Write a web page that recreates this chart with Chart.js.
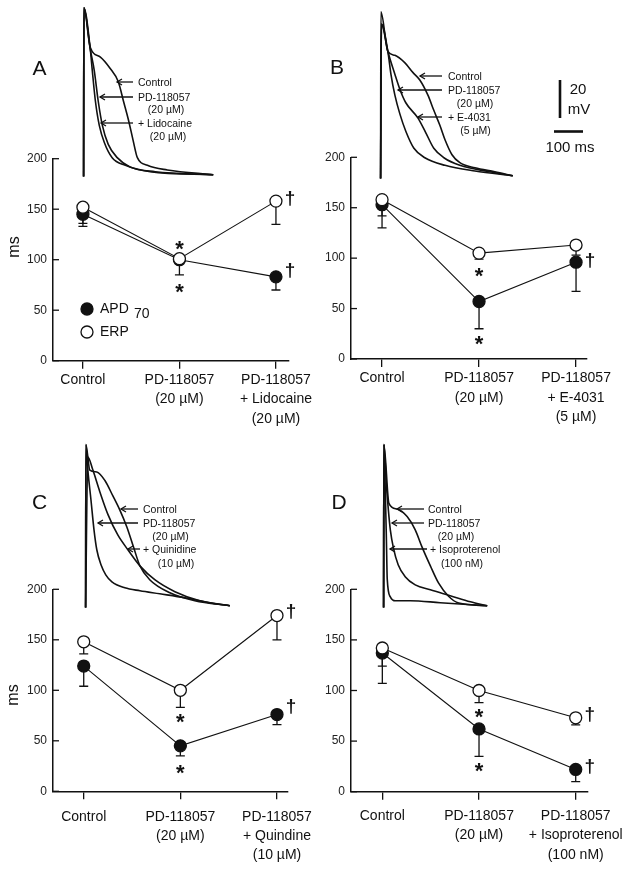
<!DOCTYPE html>
<html>
<head>
<meta charset="utf-8">
<title>APD70 and ERP</title>
<script src="https://cdn.jsdelivr.net/npm/chart.js@4.4.1/dist/chart.umd.min.js"></script>
<style>
  html, body { margin: 0; padding: 0; background: #fff; }
  #fig { position: relative; width: 629px; height: 870px; overflow: hidden;
         font-family: "Liberation Sans", Arial, sans-serif; color: #111; }
  #fig canvas, #fig svg { position: absolute; }
  .t { position: absolute; white-space: nowrap; line-height: 1; }
</style>
</head>
<body>
<div id="fig"></div>
<script>
// ---------- panel A: lidocaine ----------
const catsA = [['Control'], ['PD-118057', '(20 µM)'], ['PD-118057', '+ Lidocaine', '(20 µM)']];
const apdA = [145, 100, 83];
const apdErrA = [12, 15, 13];
const erpA = [152, 101, 158];
const erpErrA = [16, 4, 23];
const starsA = [116, 73];      // "*" at PD-118057
const daggersA = [161, 90];    // "†" beside the last group

// ---------- panel B: E-4031 ----------
const catsB = [['Control'], ['PD-118057', '(20 µM)'], ['PD-118057', '+ E-4031', '(5 µM)']];
const apdB = [153, 57, 96];
const apdErrB = [23, 27, 29];
const erpB = [158, 105, 113];
const erpErrB = [16, 6, 10];
const starsB = [87, 20];
const daggersB = [98];

// ---------- panel C: quinidine ----------
const catsC = [['Control'], ['PD-118057', '(20 µM)'], ['PD-118057', '+ Quindine', '(10 µM)']];
const apdC = [124, 45, 76];
const apdErrC = [20, 10, 10];
const erpC = [148, 100, 174];
const erpErrC = [12, 17, 24];
const starsC = [74, 23];
const daggersC = [179, 84];

// ---------- panel D: isoproterenol ----------
const catsD = [['Control'], ['PD-118057', '(20 µM)'], ['PD-118057', '+ Isoproterenol', '(100 nM)']];
const apdD = [137, 62, 22];
const apdErrD = [30, 27, 12];
const erpD = [142, 100, 73];
const erpErrD = [18, 12, 7];
const starsD = [79, 25];
const daggersD = [77, 25];

const yTicks = [0, 50, 100, 150, 200];

// ---------- action potential traces: [ms, mV] ----------
const apA_Control = [[0,-86],[1,3],[24,-18],[60,-23],[95,-29],[124,-36],[142,-46],[160,-56],[177,-67],[192,-76],[228,-80],[299,-82.5],[463,-85]];
const apA_PD      = [[0,-86],[1,3],[24,-19],[31,-30],[42,-46],[56,-59],[74,-68],[102,-76],[149,-80],[238,-83.4],[463,-85]];
const apA_Lido    = [[0,-86],[1,3],[24,-19],[38,-30],[52,-46],[67,-59],[88,-69],[120,-76],[167,-81],[256,-83.4],[463,-85]];

const apB_Control = [[0,-86],[1,2],[26,-19],[51,-21],[87,-25],[115,-30],[140,-34],[169,-42],[190,-50],[212,-58],[230,-65.5],[255,-73.4],[283,-77.6],[337,-80.3],[408,-82.4],[472,-84.5]];
const apB_PD      = [[0,-86],[3,-4.5],[26,-19],[37,-31],[51,-42],[69,-52],[90,-61],[119,-70],[158,-75],[230,-79],[337,-82],[472,-84.5]];
const apB_E4031   = [[0,-86],[3,-4.5],[26,-19],[51,-31],[69,-39],[90,-46],[133,-54],[162,-62],[190,-70],[226,-75],[283,-79],[390,-82.4],[472,-84.5]];

const apC_Control = [[0,-86],[1,0],[15,-13.5],[40,-14.5],[69,-19],[97,-27],[122,-34.5],[147,-43.4],[172,-54.5],[194,-64],[229,-71.3],[301,-78.2],[390,-82.4],[515,-85]];
const apC_PD      = [[0,-86],[1,0],[8,-13.5],[19,-29],[30,-45],[40,-55.5],[55,-63.4],[72,-68.7],[94,-72.4],[140,-75.5],[194,-77.1],[265,-78.7],[355,-80.8],[444,-83.4],[515,-85]];
const apC_Quin    = [[0,-86],[8,-6.6],[26,-13.5],[51,-25],[80,-37],[115,-47.7],[151,-55.5],[194,-64],[247,-71.3],[319,-77.6],[408,-82.4],[515,-85]];

const apD_Control = [[0,-86],[1,0],[19,-31],[48,-34],[84,-38],[113,-45],[137,-54],[167,-64],[196,-73],[232,-80],[268,-83.6],[370,-85]];
const apD_PD      = [[0,-86],[1,0],[10,-21.4],[17,-34.5],[24,-45],[35,-54.5],[52,-63.4],[77,-69.7],[113,-74],[167,-76.6],[238,-79.7],[310,-82.9],[370,-85]];
const apD_Iso     = [[0,-86],[1,0],[6,-24],[10,-50],[13,-71],[24,-80.3],[42,-82.4],[95,-82.4],[202,-83.4],[370,-85]];

const traceT = [-20, 530];   // ms shown in each trace box
const traceV = [-92, 5];     // mV shown in each trace box

// ---------- drawing ----------
const ink = '#111';
const FONT = '"Liberation Sans", Arial, sans-serif';
Chart.defaults.font.family = FONT;
Chart.defaults.color = ink;
const fig = document.getElementById('fig');

function addCanvas(left, top, w, h) {
  const cv = document.createElement('canvas');
  cv.width = w; cv.height = h;
  cv.style.left = left + 'px'; cv.style.top = top + 'px';
  fig.appendChild(cv);
  return cv;
}

function mainChart(g, cats, apd, apdErr, erp, erpErr, stars, daggers, legend) {
  const cv = addCanvas(g.left, g.top, g.w, g.h);
  const pts = arr => arr.map((v, i) => ({ x: i, y: v }));

  const marks = {
    id: 'marks',
    beforeDatasetsDraw(chart) {
      const { ctx, scales: { x, y }, chartArea } = chart;
      ctx.save();
      ctx.strokeStyle = ink;
      ctx.lineWidth = 1.3;
      // y ticks point into the plot
      yTicks.forEach(v => {
        const py = y.getPixelForValue(v);
        ctx.beginPath(); ctx.moveTo(chartArea.left, py); ctx.lineTo(chartArea.left + 6, py); ctx.stroke();
      });
      // one-sided error bars
      [[apd, apdErr], [erp, erpErr]].forEach(([m, e]) => m.forEach((v, i) => {
        const px = x.getPixelForValue(i);
        const y0 = y.getPixelForValue(v), y1 = y.getPixelForValue(v - e[i]);
        ctx.beginPath();
        ctx.moveTo(px, y0); ctx.lineTo(px, y1);
        ctx.moveTo(px - 4.5, y1); ctx.lineTo(px + 4.5, y1);
        ctx.stroke();
      }));
      ctx.restore();
    },
    afterDatasetsDraw(chart) {
      const { ctx, scales: { x, y } } = chart;
      ctx.save();
      ctx.fillStyle = ink;
      ctx.textAlign = 'center';
      ctx.textBaseline = 'alphabetic';
      ctx.font = 'bold 22px ' + FONT;
      stars.forEach(v => ctx.fillText('*', x.getPixelForValue(1), y.getPixelForValue(v) + 12));
      ctx.font = 'bold 19px ' + FONT;
      daggers.forEach(v => ctx.fillText('†', x.getPixelForValue(2) + 14, y.getPixelForValue(v) + 6));
      if (legend) {
        ctx.strokeStyle = ink; ctx.lineWidth = 1.3;
        ctx.beginPath(); ctx.arc(87, 159, 6, 0, Math.PI * 2); ctx.fill(); ctx.stroke();
        ctx.fillStyle = '#fff';
        ctx.beginPath(); ctx.arc(87, 182, 6, 0, Math.PI * 2); ctx.fill(); ctx.stroke();
        ctx.fillStyle = ink;
        ctx.textAlign = 'left'; ctx.textBaseline = 'middle';
        ctx.font = '14px ' + FONT;
        ctx.fillText('APD', 100, 159);
        ctx.fillText('70', 134, 164);
        ctx.fillText('ERP', 100, 182);
      }
      ctx.restore();
    }
  };

  const pointStyle = fill => ({
    borderColor: ink, borderWidth: 1.1, pointRadius: 6,
    pointBackgroundColor: fill, pointBorderColor: ink, pointBorderWidth: 1.3,
    tension: 0, clip: false
  });

  new Chart(cv, {
    type: 'line',
    data: {
      datasets: [
        Object.assign({ label: 'ERP', data: pts(erp) }, pointStyle('#fff')),
        Object.assign({ label: 'APD70', data: pts(apd) }, pointStyle(ink))
      ]
    },
    options: {
      responsive: false,
      animation: false,
      layout: { padding: { top: g.padTop, right: g.padRight, left: 0, bottom: 0 } },
      plugins: { legend: { display: false }, tooltip: { enabled: false } },
      scales: {
        x: {
          type: 'linear', min: g.xMin, max: g.xMax,
          afterBuildTicks: s => { s.ticks = cats.map((c, i) => ({ value: i })); },
          afterFit: s => { s.height = g.xAxisH; s.paddingLeft = 0; s.paddingRight = 0; },
          ticks: { callback: v => cats[v], color: ink, font: { size: 14, lineHeight: 1.37 },
                   padding: g.labelPad, maxRotation: 0, autoSkip: false },
          grid: { display: true, drawOnChartArea: false, drawTicks: true, tickLength: 8, color: ink, lineWidth: 1.3 },
          border: { display: true, color: ink, width: 1.5 }
        },
        y: {
          min: 0, max: 200,
          afterBuildTicks: s => { s.ticks = yTicks.map(v => ({ value: v })); },
          afterFit: s => { s.width = g.axisW; s.paddingTop = 0; s.paddingBottom = 0; },
          ticks: { color: '#222', font: { size: 12 }, padding: 6 },
          grid: { display: false, drawTicks: false },
          border: { display: true, color: ink, width: 1.5 }
        }
      }
    },
    plugins: [marks]
  });
}

function traceChart(left, top, traces) {
  const cv = addCanvas(left, top, 154, 184);
  new Chart(cv, {
    type: 'line',
    data: {
      datasets: traces.map(tr => ({
        data: tr.map(p => ({ x: p[0], y: p[1] })),
        borderColor: ink, borderWidth: 1.6, pointRadius: 0,
        cubicInterpolationMode: 'monotone', clip: false
      }))
    },
    options: {
      responsive: false,
      animation: false,
      layout: { padding: 0 },
      plugins: { legend: { display: false }, tooltip: { enabled: false } },
      scales: {
        x: { type: 'linear', display: false, min: traceT[0], max: traceT[1] },
        y: { display: false, min: traceV[0], max: traceV[1] }
      }
    }
  });
}

mainChart({ left: 0, top: 150, w: 315, h: 280, axisW: 53, padTop: 8.7, padRight: 26.7, xAxisH: 69.3,
            xMin: -0.31, xMax: 2.128, labelPad: 2 },
          catsA, apdA, apdErrA, erpA, erpErrA, starsA, daggersA, true);
mainChart({ left: 315, top: 150, w: 314, h: 280, axisW: 36, padTop: 6.7, padRight: 42, xAxisH: 71,
            xMin: -0.32, xMax: 2.113, labelPad: 2 },
          catsB, apdB, apdErrB, erpB, erpErrB, starsB, daggersB, false);
mainChart({ left: 0, top: 580, w: 315, h: 290, axisW: 53, padTop: 9.3, padRight: 27, xAxisH: 78.7,
            xMin: -0.318, xMax: 2.114, labelPad: 8 },
          catsC, apdC, apdErrC, erpC, erpErrC, starsC, daggersC, false);
mainChart({ left: 315, top: 580, w: 314, h: 290, axisW: 36, padTop: 9.3, padRight: 41.3, xAxisH: 78.3,
            xMin: -0.324, xMax: 2.124, labelPad: 7 },
          catsD, apdD, apdErrD, erpD, erpErrD, starsD, daggersD, false);

traceChart(78, 4, [apA_Control, apA_PD, apA_Lido]);
traceChart(375, 6, [apB_Control, apB_PD, apB_E4031]);
traceChart(80, 435, [apC_Control, apC_PD, apC_Quin]);
traceChart(378, 435, [apD_Control, apD_PD, apD_Iso]);

// ---------- arrows, scale bar, labels ----------
const SVGNS = 'http://www.w3.org/2000/svg';
const svg = document.createElementNS(SVGNS, 'svg');
svg.setAttribute('width', 629); svg.setAttribute('height', 870);
svg.style.left = '0px'; svg.style.top = '0px';
fig.appendChild(svg);

function seg(pts, w) {
  const el = document.createElementNS(SVGNS, 'polyline');
  el.setAttribute('points', pts.map(p => p.join(',')).join(' '));
  el.setAttribute('fill', 'none');
  el.setAttribute('stroke', ink);
  el.setAttribute('stroke-width', w);
  svg.appendChild(el);
}

function label(text, x, y, size, center) {
  const d = document.createElement('div');
  d.className = 't';
  d.textContent = text;
  d.style.left = x + 'px'; d.style.top = y + 'px';
  d.style.fontSize = size + 'px';
  d.style.transform = center ? 'translate(-50%, -50%)' : 'translateY(-50%)';
  fig.appendChild(d);
  return d;
}

// [text, x, y, arrow start, arrow tip]  (no arrow: x is centre)
const notes = [
  ['Control', 138, 82, 133, 117], ['PD-118057', 138, 97, 133, 100], ['(20 µM)', 166, 109],
  ['+ Lidocaine', 138, 123, 133, 101], ['(20 µM)', 168, 136],
  ['Control', 448, 76, 442, 420], ['PD-118057', 448, 90, 442, 398], ['(20 µM)', 475, 103],
  ['+ E-4031', 448, 117, 442, 418], ['(5 µM)', 475.5, 130],
  ['Control', 143, 509, 138, 121], ['PD-118057', 143, 523, 138, 98], ['(20 µM)', 170.5, 536],
  ['+ Quinidine', 143, 549, 140, 128], ['(10 µM)', 176, 563],
  ['Control', 428, 509, 424, 397], ['PD-118057', 428, 523, 424, 392], ['(20 µM)', 456, 536],
  ['+ Isoproterenol', 430, 549, 427, 390], ['(100 nM)', 462, 563]
];
notes.forEach(n => {
  if (n.length > 3) {
    label(n[0], n[1], n[2], 10.5, false);
    seg([[n[3], n[2]], [n[4], n[2]]], 1.3);
    seg([[n[4] + 5, n[2] - 3], [n[4], n[2]], [n[4] + 5, n[2] + 3]], 1.3);
  } else {
    label(n[0], n[1], n[2], 10.5, true);
  }
});

// scale bar
seg([[560, 80], [560, 118]], 2.6);
seg([[554, 131.5], [583, 131.5]], 2.6);
label('20', 578, 88, 15, true);
label('mV', 579, 108, 15, true);
label('100 ms', 570, 146, 15, true);

// panel letters
label('A', 39.5, 67, 21, true);
label('B', 337, 66, 21, true);
label('C', 39.5, 501, 21, true);
label('D', 339, 501, 21, true);

// y-axis titles
label('ms', 13.5, 247, 16, true).style.transform = 'translate(-50%, -50%) rotate(-90deg)';
label('ms', 13, 695, 16, true).style.transform = 'translate(-50%, -50%) rotate(-90deg)';
</script>
</body>
</html>
